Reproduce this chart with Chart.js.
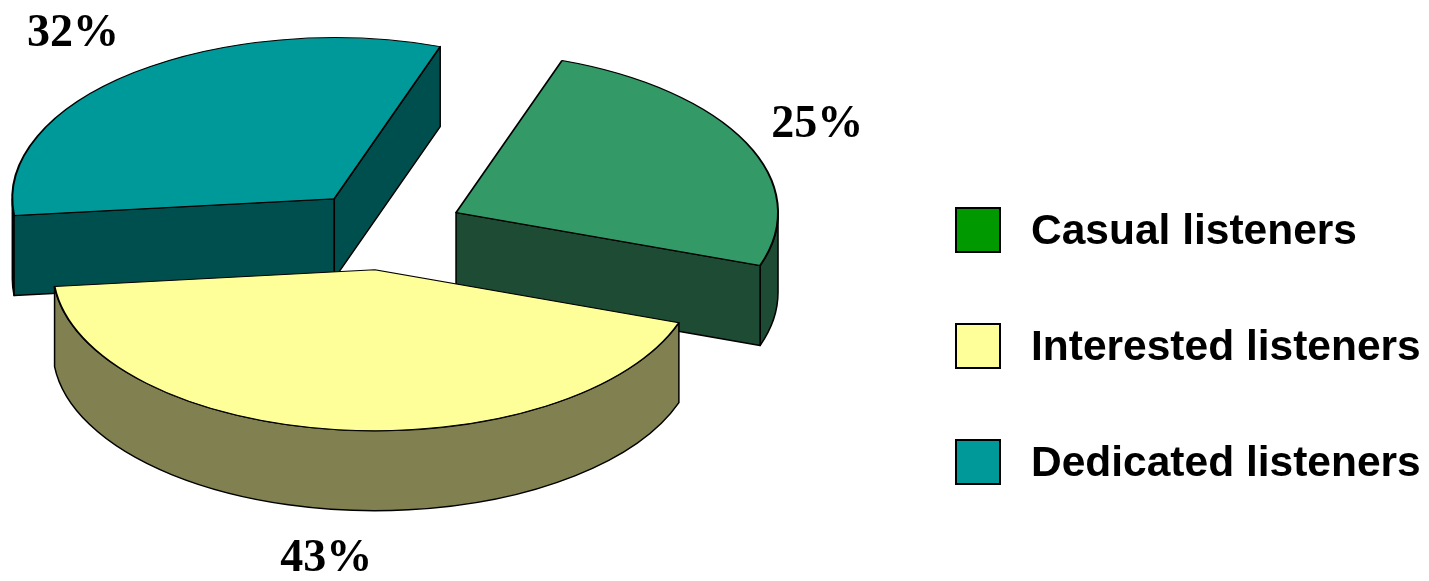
<!DOCTYPE html>
<html>
<head>
<meta charset="utf-8">
<title>Listeners</title>
<script src="https://cdn.jsdelivr.net/npm/chart.js@4.4.1/dist/chart.umd.min.js"></script>
<style>
  html, body { margin: 0; padding: 0; background: #fff; }
  #wrap { position: relative; width: 1429px; height: 581px; overflow: hidden; }
  #pie { position: absolute; left: 0; top: 0; }
  #legend { position: absolute; left: 955px; top: 207px; margin: 0; padding: 0; list-style: none;
    font: bold 42.5px "Liberation Sans", Arial, sans-serif; color: #000; }
  #legend li { display: flex; align-items: center; height: 46px; margin-bottom: 70px; white-space: nowrap; }
  #legend span { display: inline-block; width: 42px; height: 42px; border: 2px solid #000; margin-right: 30px; flex: none; }
</style>
</head>
<body>
<div id="wrap">
  <canvas id="pie" width="1429" height="581"></canvas>
  <ul id="legend"></ul>
</div>
<script>
var labels = ['Casual listeners', 'Interested listeners', 'Dedicated listeners'];
var shares = [25, 43, 32];
var topColors = ['#339966', '#ffff99', '#009999'];
var sideColors = ['#1e4b34', '#808050', '#004f4f'];
var legendColors = ['#009900', '#ffff99', '#009999'];

// 3d look
var TILT = 0.5, DEPTH = 80, EXPLODE = 80, LABEL_GAP = 25;

function pt(cx, cy, r, a) {
  return [cx + r * Math.cos(a), cy + r * Math.sin(a) * TILT];
}

function drawSides(ctx, cx, cy, r, a0, a1, color) {
  ctx.save();
  ctx.fillStyle = color;
  ctx.strokeStyle = '#000';
  ctx.lineWidth = 1.5;
  ctx.lineJoin = 'round';
  // curved outer wall, only the front half shows
  for (var n = -1; n <= 2; n++) {
    var lo = Math.max(a0, 2 * Math.PI * n), hi = Math.min(a1, 2 * Math.PI * n + Math.PI);
    if (lo < hi) {
      ctx.beginPath();
      ctx.ellipse(cx, cy, r, r * TILT, 0, lo, hi);
      ctx.ellipse(cx, cy + DEPTH, r, r * TILT, 0, hi, lo, true);
      ctx.closePath();
      ctx.fill();
      ctx.stroke();
    }
  }
  // cut faces of the exploded slice
  [[a0, Math.cos(a0) < 0], [a1, Math.cos(a1) > 0]].forEach(function (f) {
    if (!f[1]) return;
    var p = pt(cx, cy, r, f[0]);
    ctx.beginPath();
    ctx.moveTo(cx, cy);
    ctx.lineTo(p[0], p[1]);
    ctx.lineTo(p[0], p[1] + DEPTH);
    ctx.lineTo(cx, cy + DEPTH);
    ctx.closePath();
    ctx.fill();
    ctx.stroke();
  });
  ctx.restore();
}

function sliceCenter(arc) {
  var mid = (arc.startAngle + arc.endAngle) / 2;
  return { mid: mid, x: arc.x + Math.cos(mid) * EXPLODE, y: arc.y + Math.sin(mid) * EXPLODE * TILT };
}

var pie3d = {
  id: 'pie3d',
  beforeDatasetsDraw: function (chart) {
    var ctx = chart.ctx;
    var slices = chart.getDatasetMeta(0).data.map(function (arc, i) {
      return { arc: arc, i: i, c: sliceCenter(arc) };
    });
    // back to front
    slices.sort(function (a, b) { return Math.sin(a.c.mid) - Math.sin(b.c.mid); });
    slices.forEach(function (s) {
      var arc = s.arc;
      drawSides(ctx, s.c.x, s.c.y, arc.outerRadius, arc.startAngle, arc.endAngle, sideColors[s.i]);
      ctx.save();
      ctx.translate(s.c.x, s.c.y);
      ctx.scale(1, TILT);
      ctx.translate(-arc.x, -arc.y);
      arc.draw(ctx);
      ctx.restore();
    });
    return false;
  },
  afterDraw: function (chart) {
    var ctx = chart.ctx;
    var total = shares.reduce(function (a, b) { return a + b; }, 0);
    ctx.save();
    ctx.font = 'bold 46px "Liberation Serif", "Times New Roman", serif';
    ctx.fillStyle = '#000';
    ctx.textAlign = 'center';
    ctx.textBaseline = 'middle';
    chart.getDatasetMeta(0).data.forEach(function (arc, i) {
      var c = sliceCenter(arc);
      var text = Math.round(shares[i] / total * 100) + '%';
      var edge = pt(c.x, c.y, arc.outerRadius, c.mid);
      if (Math.sin(c.mid) > 0) edge[1] += DEPTH;
      var dx = Math.cos(c.mid), dy = Math.sin(c.mid) * TILT;
      var len = Math.sqrt(dx * dx + dy * dy);
      dx /= len; dy /= len;
      // push the text box clear of the rim
      var half = Math.abs(dx) * ctx.measureText(text).width / 2 + Math.abs(dy) * 16;
      var d = LABEL_GAP + half;
      ctx.fillText(text, edge[0] + dx * d, edge[1] + dy * d);
    });
    ctx.restore();
  }
};

var chart = new Chart(document.getElementById('pie'), {
  type: 'pie',
  data: {
    labels: labels,
    datasets: [{
      data: shares,
      backgroundColor: topColors,
      borderColor: '#000',
      borderWidth: 2,
      radius: 322
    }]
  },
  options: {
    responsive: false,
    animation: false,
    devicePixelRatio: 1,
    rotation: 19.2,
    layout: { padding: { left: 0, right: 661, top: 0, bottom: 121 } },
    plugins: { legend: { display: false }, tooltip: { enabled: false } }
  },
  plugins: [pie3d]
});

// legend
var ul = document.getElementById('legend');
labels.forEach(function (name, i) {
  var li = document.createElement('li');
  var box = document.createElement('span');
  box.style.background = legendColors[i];
  li.appendChild(box);
  li.appendChild(document.createTextNode(name));
  ul.appendChild(li);
});
</script>
</body>
</html>
